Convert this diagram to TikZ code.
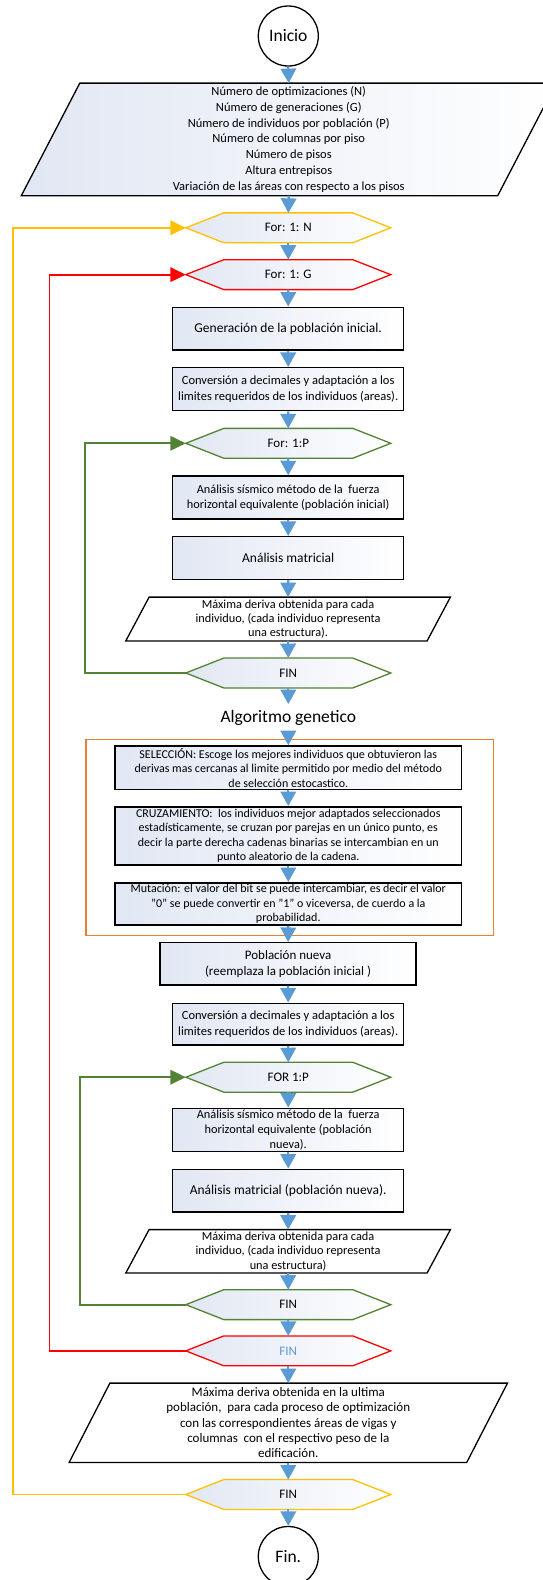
\documentclass[tikz,border=0pt]{standalone}
\usepackage{fontspec}
\setmainfont{Carlito}
\usetikzlibrary{arrows.meta,backgrounds}
\definecolor{cYel}{HTML}{FFC000}
\definecolor{cRed}{HTML}{FF0000}
\definecolor{cGrn}{HTML}{548235}
\definecolor{cBlu}{HTML}{5B9BD5}
\definecolor{cOrg}{HTML}{ED7D31}
\definecolor{cFill}{HTML}{E1E7F3}
\newcommand\hexshape[2]{%
  \draw[hexline,draw=#2] (#1.west) -- ([xshift=38pt]#1.north west) -- ([xshift=-38pt]#1.north east) -- (#1.east) -- ([xshift=-38pt]#1.south east) -- ([xshift=38pt]#1.south west) -- cycle;}
\newcommand\parashape[3]{%
  \draw[paraline,#3] ([xshift=#2]#1.north west) -- (#1.north east) -- ([xshift=-#2]#1.south east) -- (#1.south west) -- cycle;}
\tikzset{
  flow/.style={draw=cBlu, line width=2.2pt, -{Triangle[length=14.5pt,width=15.5pt]}},
  loopline/.style={line width=1.9pt, -{Triangle[length=15.5pt,width=14.5pt]}},
  hexn/.style={rectangle, inner sep=0pt, minimum width=204.6pt, minimum height=29.5pt, font=\fontsize{13}{15.6}\selectfont},
  hexline/.style={line width=1.3pt, left color=cFill, right color=white},
  paran/.style={rectangle, inner sep=0pt, align=center},
  paraline/.style={draw=black, line width=1.3pt},
  box/.style={rectangle, draw=black, line width=1.5pt, left color=cFill, right color=white, inner sep=0pt, align=center},
  circ/.style={circle, draw=black, line width=1.3pt, fill=white, minimum size=60pt, inner sep=0pt, font=\fontsize{17.5}{21}\selectfont},
  fL/.style={font=\fontsize{13.5}{16}\selectfont},
  fM/.style={font=\fontsize{12.5}{15.7}\selectfont},
  fS/.style={font=\fontsize{12}{14.4}\selectfont},
}
\begin{document}
\begin{tikzpicture}[x=1pt,y=-1pt]
\useasboundingbox (0,0) rectangle (543,1580);
\clip (0,0) rectangle (543,1580);

% nodes
\node[circ] (start) at (288.3,36) {Inicio};
\node[paran,fM,minimum width=534.5pt,minimum height=112.2pt] (inp) at (288.75,139.4)
 {Número de optimizaciones (N)\\Número de generaciones (G)\\Número de individuos por población (P)\\Número de columnas por piso\\Número de pisos\\Altura entrepisos\\Variación de las áreas con respecto a los pisos};
\node[hexn] (forN) at (288.3,227.8) {For: 1: N};
\node[hexn] (forG) at (288.3,274.65) {For: 1: G};
\node[box,fL,minimum width=231pt,minimum height=42.7pt] (gen) at (288.2,328.65) {Generación de la población inicial.};
\node[box,fM,minimum width=231pt,minimum height=43pt] (conv) at (288.2,389.2) {Conversión a decimales y adaptación a los\\limites requeridos de los individuos (areas).};
\node[hexn] (forP) at (288.3,443.3) {For: 1:P};
\node[box,font=\fontsize{12.3}{14.6}\selectfont,minimum width=231pt,minimum height=43pt] (sis) at (288.2,497.5) {Análisis sísmico método de la \ fuerza\\horizontal equivalente (población inicial)};
\node[box,fL,minimum width=231pt,minimum height=42.6pt] (mat) at (288.2,558) {Análisis matricial};
\node[paran,font=\fontsize{12.3}{14.3}\selectfont,minimum width=324.2pt,minimum height=43.4pt] (max) at (288.1,619) {Máxima deriva obtenida para cada\\individuo, (cada individuo representa\\una estructura).};
\node[hexn] (finP) at (288.3,673) {FIN};
\node[inner sep=0pt,minimum height=28pt,font=\fontsize{17.5}{21}\selectfont] (alg) at (288.3,718.3) {Algoritmo genetico};
\node[draw=cOrg,line width=1.3pt,minimum width=407.5pt,minimum height=196.4pt,inner sep=0pt] (gaframe) at (289.65,837.5) {};
\node[box,fS,minimum width=346.6pt,minimum height=43.5pt] (sel) at (288.3,767.7) {SELECCIÓN: Escoge los mejores individuos que obtuvieron las\\derivas mas cercanas al limite permitido por medio del método\\de selección estocastico.};
\node[box,fS,minimum width=346.6pt,minimum height=58.3pt] (cru) at (288.3,835.9) {CRUZAMIENTO: \ los individuos mejor adaptados seleccionados\\estadísticamente, se cruzan por parejas en un único punto, es\\decir la parte derecha cadenas binarias se intercambian en un\\punto aleatorio de la cadena.};
\node[box,fS,minimum width=346.6pt,minimum height=42.3pt] (mut) at (288.3,903.9) {Mutación: el valor del bit se puede intercambiar, es decir el valor\\"0" se puede convertir en "1" o viceversa, de cuerdo a la\\probabilidad.};
\node[box,font=\fontsize{13}{16}\selectfont,minimum width=256.2pt,minimum height=42.3pt] (pob) at (288.1,963.85) {Población nueva\\(reemplaza la población inicial )};
\node[box,fM,minimum width=231pt,minimum height=41.7pt] (conv2) at (288.2,1024.15) {Conversión a decimales y adaptación a los\\limites requeridos de los individuos (areas).};
\node[hexn] (forP2) at (288.3,1077.2) {FOR 1:P};
\node[box,font=\fontsize{12.3}{15.2}\selectfont,minimum width=231pt,minimum height=43.4pt] (sis2) at (288.2,1130) {Análisis sísmico método de la \ fuerza\\horizontal equivalente (población\\nueva).};
\node[box,fL,minimum width=231pt,minimum height=42.7pt] (mat2) at (288.2,1190.65) {Análisis matricial (población nueva).};
\node[paran,font=\fontsize{12.3}{14.6}\selectfont,minimum width=324.2pt,minimum height=43pt] (max2) at (288.1,1251.3) {Máxima deriva obtenida para cada\\individuo, (cada individuo representa\\una estructura)};
\node[hexn] (finP2) at (288.3,1304.65) {FIN};
\node[hexn,text=cBlu] (finG) at (288.3,1350.85) {FIN};
\node[paran,font=\fontsize{13}{15.3}\selectfont,minimum width=438pt,minimum height=79pt] (res) at (288.3,1422.8) {Máxima deriva obtenida en la ultima\\población, \ para cada proceso de optimización\\con las correspondientes áreas de vigas y\\columnas \ con el respectivo peso de la\\edificación.};
\node[hexn] (finN) at (288.3,1494.5) {FIN};
\node[circ] (end) at (288.3,1556.5) {Fin.};

% shapes behind text
\begin{pgfonlayer}{background}
\clip (0,0) rectangle (543,1580);
\parashape{inp}{58.5pt}{left color=cFill,right color=white}
\parashape{max}{23.3pt}{fill=white}
\parashape{max2}{23.3pt}{fill=white}
\parashape{res}{40.8pt}{fill=white}
\hexshape{forN}{cYel}
\hexshape{forG}{cRed}
\hexshape{forP}{cGrn}
\hexshape{finP}{cGrn}
\hexshape{forP2}{cGrn}
\hexshape{finP2}{cGrn}
\hexshape{finG}{cRed}
\hexshape{finN}{cYel}
\end{pgfonlayer}

% flow arrows
\draw[flow] (start.south) -- (inp.north);
\draw[flow] (inp.south) -- (forN.north);
\draw[flow] (forN.south) -- (forG.north);
\draw[flow] (forG.south) -- (gen.north);
\draw[flow] (gen.south) -- (conv.north);
\draw[flow] (conv.south) -- (forP.north);
\draw[flow] (forP.south) -- (sis.north);
\draw[flow] (sis.south) -- (mat.north);
\draw[flow] (mat.south) -- (max.north);
\draw[flow] (max.south) -- (finP.north);
\draw[flow] (finP.south) -- (alg.north);
\draw[flow] (alg.south) -- (sel.north);
\draw[flow] (sel.south) -- (cru.north);
\draw[flow] (cru.south) -- (mut.north);
\draw[flow] (mut.south) -- (pob.north);
\draw[flow] (pob.south) -- (conv2.north);
\draw[flow] (conv2.south) -- (forP2.north);
\draw[flow] (forP2.south) -- (sis2.north);
\draw[flow] (sis2.south) -- (mat2.north);
\draw[flow] (mat2.south) -- (max2.north);
\draw[flow] (max2.south) -- (finP2.north);
\draw[flow] (finP2.south) -- (finG.north);
\draw[flow] (finG.south) -- (res.north);
\draw[flow] (res.south) -- (finN.north);
\draw[flow] (finN.south) -- (end.north);

% loops
\coordinate (xY) at (12.8,0);
\coordinate (xR) at (49.5,0);
\coordinate (xG1) at (84.8,0);
\coordinate (xG2) at (80.3,0);
\draw[loopline,draw=cYel] (finN.west) -- (finN.west -| xY) |- (forN.west);
\draw[loopline,draw=cRed] (finG.west) -- (finG.west -| xR) |- (forG.west);
\draw[loopline,draw=cGrn] (finP.west) -- (finP.west -| xG1) |- (forP.west);
\draw[loopline,draw=cGrn] (finP2.west) -- (finP2.west -| xG2) |- (forP2.west);
\end{tikzpicture}
\end{document}
